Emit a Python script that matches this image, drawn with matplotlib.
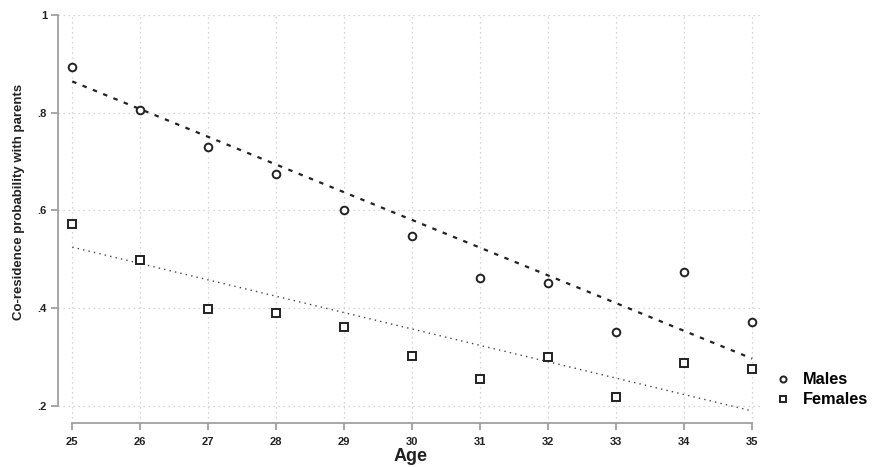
import matplotlib.pyplot as plt

plt.rcParams['font.family'] = ['Liberation Sans', 'DejaVu Sans']

ages = [25, 26, 27, 28, 29, 30, 31, 32, 33, 34, 35]
males = [0.893, 0.805, 0.729, 0.674, 0.600, 0.547, 0.462, 0.451, 0.352, 0.475, 0.371]
females = [0.572, 0.498, 0.398, 0.390, 0.361, 0.302, 0.255, 0.300, 0.219, 0.288, 0.276]
# fitted lines (endpoints at age 25 and 35)
fit_ages = [25, 35]
males_fit = [0.864, 0.297]
females_fit = [0.525, 0.190]
yticks = [0.2, 0.4, 0.6, 0.8, 1.0]
ytick_labels = [".2", ".4", ".6", ".8", "1"]

fig = plt.figure(figsize=(8.72, 4.67), dpi=100)
ax = fig.add_axes([0.0665, 0.095, 0.8085, 0.873])

ax.plot(fit_ages, males_fit, color='#222222', lw=1.6, ls=(0, (2, 3)))
ax.plot(fit_ages, females_fit, color='#444444', lw=1.0, ls=(0, (1, 3)))

ax.plot(ages, males, 'o', ms=5.5, mfc='white', mec='#222222', mew=1.4, label='Males')
ax.plot(ages, females, 's', ms=5.5, mfc='white', mec='#222222', mew=1.4, label='Females')

ax.set_xlim(24.79, 35.16)
ax.set_ylim(0.166, 1.0)
ax.set_xticks(ages)
ax.set_yticks(yticks)
ax.set_yticklabels(ytick_labels)

for s in ['top', 'right']:
    ax.spines[s].set_visible(False)
ax.spines['left'].set_bounds(0.2, 1.0)
ax.spines['bottom'].set_bounds(25, 35)
for s in ['left', 'bottom']:
    ax.spines[s].set_color('#a0a0a0')
    ax.spines[s].set_linewidth(1.3)

ax.tick_params(axis='both', colors='#a0a0a0', length=5, width=1.3,
               labelcolor='#222222', labelsize=8)
ax.tick_params(axis='x', pad=5)
ax.tick_params(axis='y', pad=3)
for lab in ax.get_xticklabels() + ax.get_yticklabels():
    lab.set_fontweight('bold')

ax.grid(True, color='#c8c8c8', ls=(0, (1, 3)), lw=0.9)
ax.set_axisbelow(True)

ax.set_ylabel("Co-residence probability with parents", fontsize=9.5,
              fontweight='bold', color='#222222')
ax.yaxis.set_label_coords(-0.047, 0.541)
ax.set_xlabel("Age", fontsize=13, fontweight='bold', color='#222222', labelpad=1)

fig.legend(loc='center left', bbox_to_anchor=(0.89, 0.165), frameon=False,
           prop={'weight': 'bold', 'size': 11.8}, borderpad=0, borderaxespad=0,
           handlelength=0.9, handletextpad=0.75, labelspacing=0.3, markerscale=0.8)

fig.savefig("out.png", dpi=100)
